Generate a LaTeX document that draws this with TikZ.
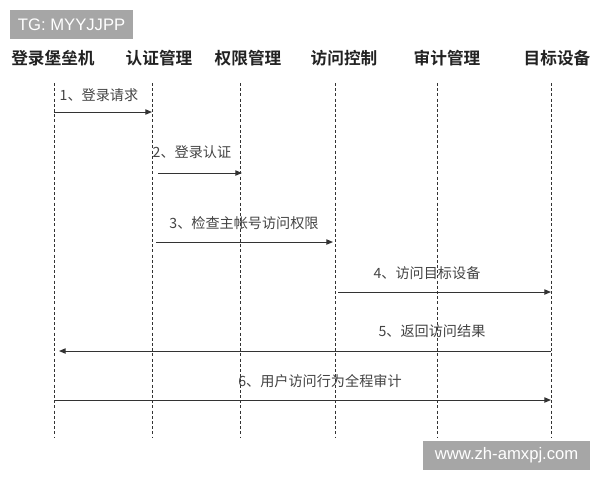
\documentclass[tikz,border=0pt]{standalone}
\usepackage{fontspec}
\setmainfont{Liberation Sans}
\newfontfamily\cjk{Noto Sans CJK SC}
\newfontfamily\cjkb{Noto Sans CJK SC}[BoldFont={* Bold}]
\usetikzlibrary{arrows.meta}
\definecolor{ln}{HTML}{333333}
\definecolor{lbl}{HTML}{444444}
\definecolor{hd}{HTML}{222222}
\definecolor{wm}{HTML}{A6A6A6}
\begin{document}
\begin{tikzpicture}[x=0.75pt,y=-0.75pt,
  head/.style={font=\cjkb\bfseries\fontsize{12.5}{14}\selectfont, text=hd, inner sep=0pt},
  life/.style={draw=ln, line width=0.7pt, dash pattern=on 2.3pt off 1.6pt},
  msg/.style={draw=ln, line width=0.75pt, -{Triangle[length=5pt,width=4pt]}},
  lab/.style={font=\cjk\fontsize{10.6}{12}\selectfont, text=lbl, inner sep=0pt},
  wmbox/.style={fill=wm, text=white, font=\fontsize{12.5}{14}\selectfont, inner sep=0pt, minimum height=21.5pt}]
\path[use as bounding box, fill=white] (0,0) rectangle (600,480);
% watermark boxes
\node[wmbox, minimum width=92pt, anchor=north west] (tg) at (10,10) {TG: MYYJJPP};
\node[wmbox, minimum width=125pt, anchor=north west] (wm) at (423,441) {www.zh-amxpj.com};
% headers
\node[head] (h1) at (53,58) {登录堡垒机};
\node[head] (h2) at (159,58) {认证管理};
\node[head] (h3) at (248,58) {权限管理};
\node[head] (h4) at (344,58) {访问控制};
\node[head] (h5) at (447,58) {审计管理};
\node[head] (h6) at (557,58) {目标设备};
% lifelines
\foreach \i/\x in {1/54,2/152,3/240,4/335,5/437,6/551}{
  \coordinate (t\i) at (\x,83);
  \coordinate (b\i) at (\x,437);
  \draw[life] (t\i) -- (b\i);
}
% message end points
\coordinate (m1a) at (54,112);  \coordinate (m1b) at (152,112);
\coordinate (m2a) at (158,173); \coordinate (m2b) at (242,173);
\coordinate (m3a) at (156,242); \coordinate (m3b) at (333,242);
\coordinate (m4a) at (338,292); \coordinate (m4b) at (551,292);
\coordinate (m5a) at (551,351); \coordinate (m5b) at (59,351);
\coordinate (m6a) at (54,400);  \coordinate (m6b) at (551,400);
\draw[msg] (m1a) -- (m1b);
\draw[msg] (m2a) -- (m2b);
\draw[msg] (m3a) -- (m3b);
\draw[msg] (m4a) -- (m4b);
\draw[msg] (m5a) -- (m5b);
\draw[msg] (m6a) -- (m6b);
% labels
\node[lab] (l1) at (99,95) {1、登录请求};
\node[lab] (l2) at (192,152) {2、登录认证};
\node[lab] (l3) at (244,223) {3、检查主帐号访问权限};
\node[lab] (l4) at (427,273) {4、访问目标设备};
\node[lab] (l5) at (432,331) {5、返回访问结果};
\node[lab] (l6) at (320,381) {6、用户访问行为全程审计};
\end{tikzpicture}
\end{document}
